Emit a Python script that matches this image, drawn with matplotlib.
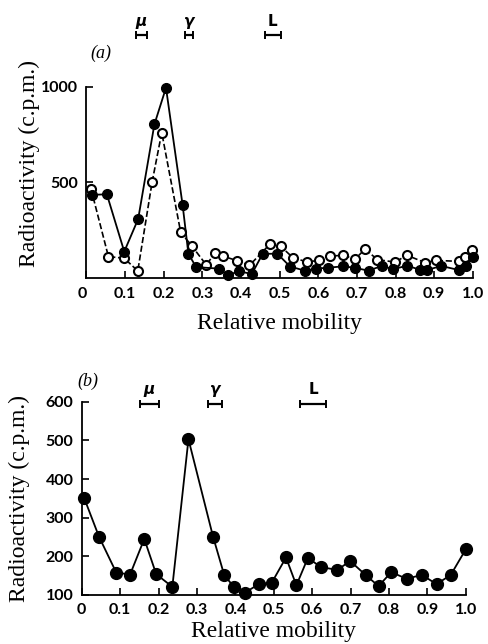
#!/usr/bin/env python3
import matplotlib
matplotlib.use("Agg")
import matplotlib.pyplot as plt

# panel (a): filled and open circles
a_fill_x = [0.014, 0.053, 0.098, 0.134, 0.176, 0.206, 0.249, 0.264, 0.284, 0.342,
            0.366, 0.396, 0.428, 0.456, 0.494, 0.527, 0.566, 0.594, 0.626, 0.665,
            0.696, 0.730, 0.765, 0.793, 0.830, 0.864, 0.882, 0.918, 0.963, 0.982, 1.0]
a_fill_y = [435, 438, 139, 309, 803, 994, 382, 127, 58, 50,
            17, 36, 22, 127, 128, 61, 39, 50, 55, 62,
            54, 39, 65, 46, 66, 43, 43, 64, 43, 62, 110]
a_open_x = [0.012, 0.057, 0.098, 0.133, 0.170, 0.195, 0.244, 0.273, 0.310, 0.333,
            0.354, 0.389, 0.422, 0.475, 0.503, 0.534, 0.570, 0.602, 0.631, 0.665,
            0.695, 0.721, 0.753, 0.799, 0.829, 0.877, 0.904, 0.963, 0.980, 0.997]
a_open_y = [466, 113, 104, 38, 501, 760, 240, 168, 70, 130,
            115, 92, 67, 178, 166, 108, 85, 93, 115, 120,
            99, 152, 97, 84, 120, 81, 93, 88, 113, 145]

# panel (b)
b_x = [0.006, 0.045, 0.090, 0.126, 0.163, 0.194, 0.236, 0.278, 0.342, 0.371,
       0.396, 0.425, 0.461, 0.495, 0.532, 0.559, 0.589, 0.623, 0.666, 0.699,
       0.740, 0.773, 0.806, 0.846, 0.886, 0.924, 0.961, 1.0]
b_y = [352, 251, 158, 153, 245, 154, 121, 503, 251, 152,
       121, 106, 128, 132, 197, 125, 196, 172, 165, 188,
       151, 123, 159, 142, 152, 128, 152, 218]

# marker bands (start, end) in relative mobility
a_bands = {"μ": (0.128, 0.157), "γ": (0.255, 0.276), "L": (0.462, 0.503)}
b_bands = {"μ": (0.152, 0.200), "γ": (0.330, 0.365), "L": (0.569, 0.636)}

xticks = [0, 0.1, 0.2, 0.3, 0.4, 0.5, 0.6, 0.7, 0.8, 0.9, 1.0]
xticklabels = ["0", "0.1", "0.2", "0.3", "0.4", "0.5", "0.6", "0.7", "0.8", "0.9", "1.0"]

serif = "Liberation Serif"
tickfont = dict(family="Lato", weight="bold", size=11.5)

fig = plt.figure(figsize=(4.88, 6.44), dpi=100)
axA = fig.add_axes([0.177, 0.568, 0.792, 0.2975])
axB = fig.add_axes([0.1674, 0.0761, 0.787, 0.3001])


def style(ax, yticks):
    for s in ("top", "right"):
        ax.spines[s].set_visible(False)
    for s in ("left", "bottom"):
        ax.spines[s].set_linewidth(1.3)
    ax.set_xticks(xticks)
    ax.set_xticklabels(xticklabels, fontdict=tickfont)
    ax.set_yticks(yticks)
    ax.set_yticklabels([str(v) for v in yticks], fontdict=tickfont)
    ax.tick_params(direction="in", length=5, width=1.2, pad=6)
    ax.set_xlabel("Relative mobility", family=serif, fontsize=17)
    ax.set_ylabel("Radioactivity (c.p.m.)", family=serif, fontsize=17)


def bands(ax, d, y, ylab):
    for name, (x0, x1) in d.items():
        ax.errorbar([(x0 + x1) / 2], [y], xerr=[(x1 - x0) / 2], fmt="none",
                    ecolor="black", elinewidth=1.6, capsize=3, capthick=1.4,
                    clip_on=False)
        ax.text((x0 + x1) / 2, ylab, name, ha="center", va="bottom",
                fontsize=11, fontweight="bold", style="italic" if name != "L" else "normal",
                family="DejaVu Sans")


# ---- (a)
axA.plot(a_open_x, a_open_y, "--", color="black", lw=1.2, marker="o", ms=6.5,
         mfc="white", mec="black", mew=1.5, clip_on=False, zorder=3)
axA.plot(a_fill_x, a_fill_y, "-", color="black", lw=1.3, marker="o", ms=7,
         mfc="black", mec="black", clip_on=False, zorder=4)
axA.set_xlim(0, 1.0)
axA.set_ylim(0, 1000)
style(axA, [500, 1000])
axA.get_xticklabels()[0].set_horizontalalignment("right")
axA.yaxis.set_label_coords(-0.12, 0.6)
axA.xaxis.set_label_coords(0.5, -0.18)
bands(axA, a_bands, 1270, 1300)
axA.text(0.01, 1150, "(a)", fontsize=13, style="italic", family=serif)

# ---- (b)
axB.plot(b_x, b_y, "-", color="black", lw=1.3, marker="o", ms=8.5,
         mfc="black", mec="black", clip_on=False, zorder=4)
axB.set_xlim(0, 1.0)
axB.set_ylim(100, 600)
style(axB, [100, 200, 300, 400, 500, 600])
axB.yaxis.set_label_coords(-0.135, 0.5)
axB.xaxis.set_label_coords(0.5, -0.135)
bands(axB, b_bands, 594, 612)
axB.text(-0.01, 640, "(b)", fontsize=13, style="italic", family=serif)

fig.savefig("out.png", dpi=100)
